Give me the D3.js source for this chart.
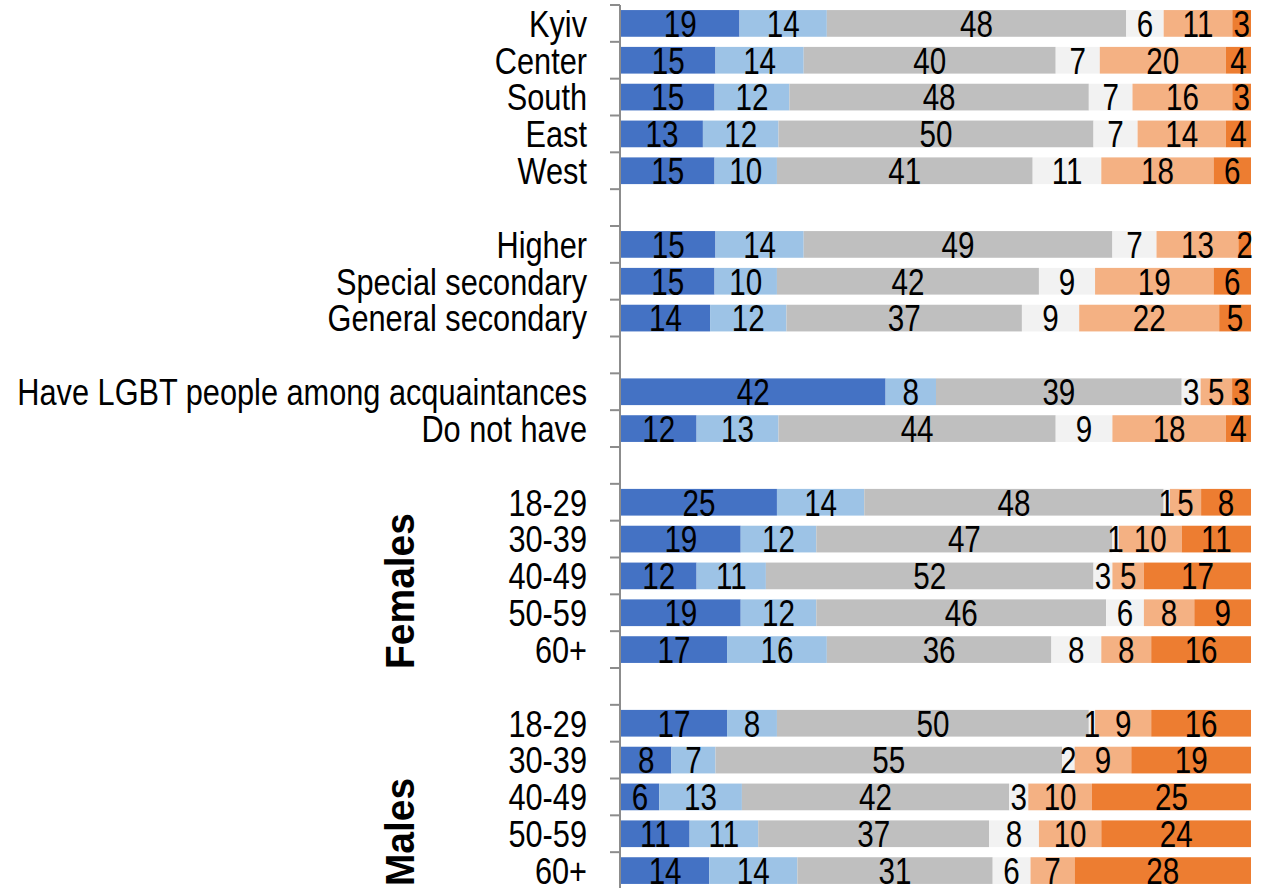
<!DOCTYPE html>
<html>
<head>
<meta charset="utf-8">
<script src="https://cdn.jsdelivr.net/npm/d3@7"></script>
<style>
  html, body { margin: 0; padding: 0; background: #fff; }
  svg { display: block; }
  text { font-family: "Liberation Sans", Arial, sans-serif; }
</style>
</head>
<body>
<svg id="chart" width="1266" height="888"></svg>
<script>
// ---- data ----
const categories = ["Kyiv","Center","South","East","West","",
  "Higher","Special secondary","General secondary","",
  "Have LGBT people among acquaintances","Do not have","",
  "18-29","30-39","40-49","50-59","60+","",
  "18-29","30-39","40-49","50-59","60+"];
const seriesA = [19,15,15,13,15,null, 15,15,14,null, 42,12,null, 25,19,12,19,17,null, 17,8,6,11,14];
const seriesB = [14,14,12,12,10,null, 14,10,12,null, 8,13,null, 14,12,11,12,16,null, 8,7,13,11,14];
const seriesC = [48,40,48,50,41,null, 49,42,37,null, 39,44,null, 48,47,52,46,36,null, 50,55,42,37,31];
const seriesD = [6,7,7,7,11,null, 7,9,9,null, 3,9,null, 1,1,3,6,8,null, 1,2,3,8,6];
const seriesE = [11,20,16,14,18,null, 13,19,22,null, 5,18,null, 5,10,5,8,8,null, 9,9,10,10,7];
const seriesF = [3,4,3,4,6,null, 2,6,5,null, 3,4,null, 8,11,17,9,16,null, 16,19,25,24,28];
const groupLabels = ["Females", "Males"];

const allSeries = [seriesA, seriesB, seriesC, seriesD, seriesE, seriesF];
const colors = ["#4472C4", "#9DC3E6", "#BFBFBF", "#F2F2F2", "#F4B183", "#ED7D31"];

// ---- layout ----
const svg = d3.select("#chart");
const xLeft = 621, xRight = 1251;
const yTop = 5, yBottom = 889;
const axisX = 620;

const idx = categories.map((c, i) => i);
const y = d3.scaleBand().domain(idx).range([yTop, yBottom])
  .paddingInner(0.275).paddingOuter(0.1375);
const x = d3.scaleLinear().domain([0, 1]).range([xLeft, xRight]);

// rows
const rows = idx.map(i => {
  const vals = allSeries.map(s => s[i]);
  if (vals[0] === null) return null;
  const total = d3.sum(vals);
  let acc = 0;
  return vals.map((v, k) => {
    const seg = { row: i, k, v, x0: acc / total, x1: (acc + v) / total };
    acc += v;
    return seg;
  });
}).filter(r => r);

const segs = rows.flat();

svg.append("g").selectAll("rect").data(segs).join("rect")
  .attr("x", d => x(d.x0))
  .attr("width", d => x(d.x1) - x(d.x0))
  .attr("y", d => y(d.row))
  .attr("height", y.bandwidth())
  .attr("fill", d => colors[d.k]);

// value labels
const numScale = 0.8;
svg.append("g").selectAll("text").data(segs).join("text")
  .attr("transform", d => `translate(${(x(d.x0) + x(d.x1)) / 2},${y(d.row) + y.bandwidth() / 2}) scale(${numScale},1)`)
  .attr("text-anchor", "middle")
  .attr("dy", "0.36em")
  .attr("font-size", 37)
  .attr("fill", "#000")
  .text(d => d.v);

// axis line + ticks
const axisG = svg.append("g");
axisG.append("line")
  .attr("x1", axisX).attr("x2", axisX)
  .attr("y1", yTop).attr("y2", yBottom)
  .attr("stroke", "#8c8c8c").attr("stroke-width", 2);
const bounds = d3.range(categories.length + 1).map(k => yTop + k * y.step());
axisG.selectAll("line.tick").data(bounds).join("line")
  .attr("class", "tick")
  .attr("x1", axisX - 10).attr("x2", axisX)
  .attr("y1", d => d).attr("y2", d => d)
  .attr("stroke", "#8c8c8c").attr("stroke-width", 2);

// category labels
const labScale = 0.83;
svg.append("g").selectAll("text").data(idx.filter(i => categories[i] !== "")).join("text")
  .attr("transform", i => `translate(587,${y(i) + y.bandwidth() / 2}) scale(${labScale},1)`)
  .attr("text-anchor", "end")
  .attr("dy", "0.36em")
  .attr("font-size", 37)
  .attr("fill", "#000")
  .text(i => categories[i]);

// group labels (rotated)
const groupCenters = [591, 832];
svg.append("g").selectAll("text").data(groupLabels).join("text")
  .attr("transform", (d, i) => `translate(399,${groupCenters[i]}) rotate(-90) scale(0.95,1)`)
  .attr("text-anchor", "middle")
  .attr("dy", "0.36em")
  .attr("font-size", 41)
  .attr("font-weight", "bold")
  .attr("fill", "#000")
  .text(d => d);
</script>
</body>
</html>
